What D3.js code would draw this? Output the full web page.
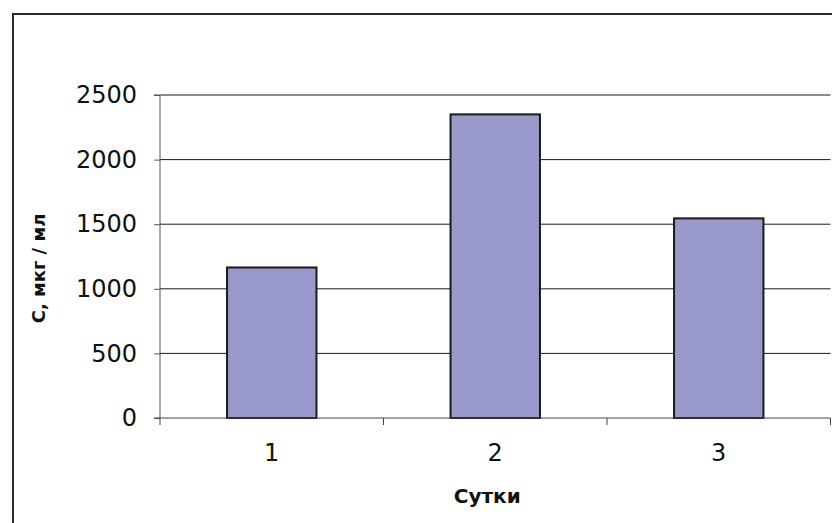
<!DOCTYPE html>
<html>
<head>
<meta charset="utf-8">
<script src="https://cdn.jsdelivr.net/npm/d3@7/dist/d3.min.js"></script>
<style>
  html, body { margin: 0; padding: 0; background: #fff; }
  svg { display: block; }
  text { font-family: "DejaVu Sans", Verdana, sans-serif; fill: #111; }
</style>
</head>
<body>
<svg id="chart" width="832" height="523"></svg>
<script>
// Concentration by day
const days = ["1", "2", "3"];
const concentration = [1165, 2350, 1545];
const yTicks = [0, 500, 1000, 1500, 2000, 2500];
const xTitle = "Сутки";
const yTitle = "С, мкг / мл";

const svg = d3.select("#chart");
const W = 832, H = 523;
const plot = { left: 160, right: 830.5, top: 95, bottom: 418 };

// Outer chart frame (continues past the right and bottom edges)
svg.append("rect")
  .attr("x", 13).attr("y", 14)
  .attr("width", W + 20).attr("height", H + 20)
  .attr("fill", "#fff")
  .attr("stroke", "#2a2a2a")
  .attr("stroke-width", 2);

const x = d3.scaleBand()
  .domain(days)
  .range([plot.left, plot.right])
  .paddingInner(0.6)
  .paddingOuter(0.3);

const y = d3.scaleLinear()
  .domain([0, 2500])
  .range([plot.bottom, plot.top]);

// Horizontal gridlines
svg.append("g")
  .selectAll("line")
  .data(yTicks.filter(d => d > 0))
  .join("line")
  .attr("x1", plot.left).attr("x2", plot.right)
  .attr("y1", d => y(d)).attr("y2", d => y(d))
  .attr("stroke", "#1a1a1a")
  .attr("stroke-width", 1);

// Bars
svg.append("g")
  .selectAll("rect")
  .data(concentration)
  .join("rect")
  .attr("x", (d, i) => x(days[i]))
  .attr("y", d => y(d))
  .attr("width", x.bandwidth())
  .attr("height", d => y(0) - y(d))
  .attr("fill", "#9999cc")
  .attr("stroke", "#1a1a1a")
  .attr("stroke-width", 2);

// Y axis
const yAxis = d3.axisLeft(y)
  .tickValues(yTicks)
  .tickSize(6)
  .tickPadding(17)
  .tickFormat(d3.format("d"));
const gy = svg.append("g")
  .attr("transform", `translate(${plot.left},0)`)
  .call(yAxis);
gy.select(".domain").attr("stroke", "#555").attr("d", `M-6,${plot.top}H0V${plot.bottom}`);
gy.selectAll(".tick line").attr("stroke", "#555");
gy.selectAll(".tick text")
  .style("font-family", "'DejaVu Sans', Verdana, sans-serif")
  .style("font-size", "24px")
  .attr("fill", "#1a1a1a");

// X axis: ticks sit on category boundaries, labels centred on bars
const step = x.step();
const bounds = d3.range(days.length + 1).map(i => plot.left + i * step);
const gx = svg.append("g");
gx.append("line")
  .attr("x1", plot.left - 6).attr("x2", plot.right)
  .attr("y1", y(0)).attr("y2", y(0))
  .attr("stroke", "#444");
gx.selectAll("line.tick")
  .data(bounds)
  .join("line")
  .attr("class", "tick")
  .attr("x1", d => d).attr("x2", d => d)
  .attr("y1", y(0)).attr("y2", y(0) + 7)
  .attr("stroke", "#444");
gx.selectAll("text")
  .data(days)
  .join("text")
  .attr("x", d => x(d) + x.bandwidth() / 2)
  .attr("y", y(0) + 43)
  .attr("text-anchor", "middle")
  .style("font-size", "24px")
  .attr("fill", "#1a1a1a")
  .text(d => d);

// Axis titles
svg.append("text")
  .attr("x", (plot.left + plot.right) / 2 - 8)
  .attr("y", 503)
  .attr("text-anchor", "middle")
  .style("font-size", "20px")
  .style("font-weight", "bold")
  .text(xTitle);

svg.append("text")
  .attr("transform", `translate(45,${(plot.top + plot.bottom) / 2 + 12}) rotate(-90)`)
  .attr("text-anchor", "middle")
  .style("font-size", "18px")
  .style("font-weight", "bold")
  .text(yTitle);
</script>
</body>
</html>
